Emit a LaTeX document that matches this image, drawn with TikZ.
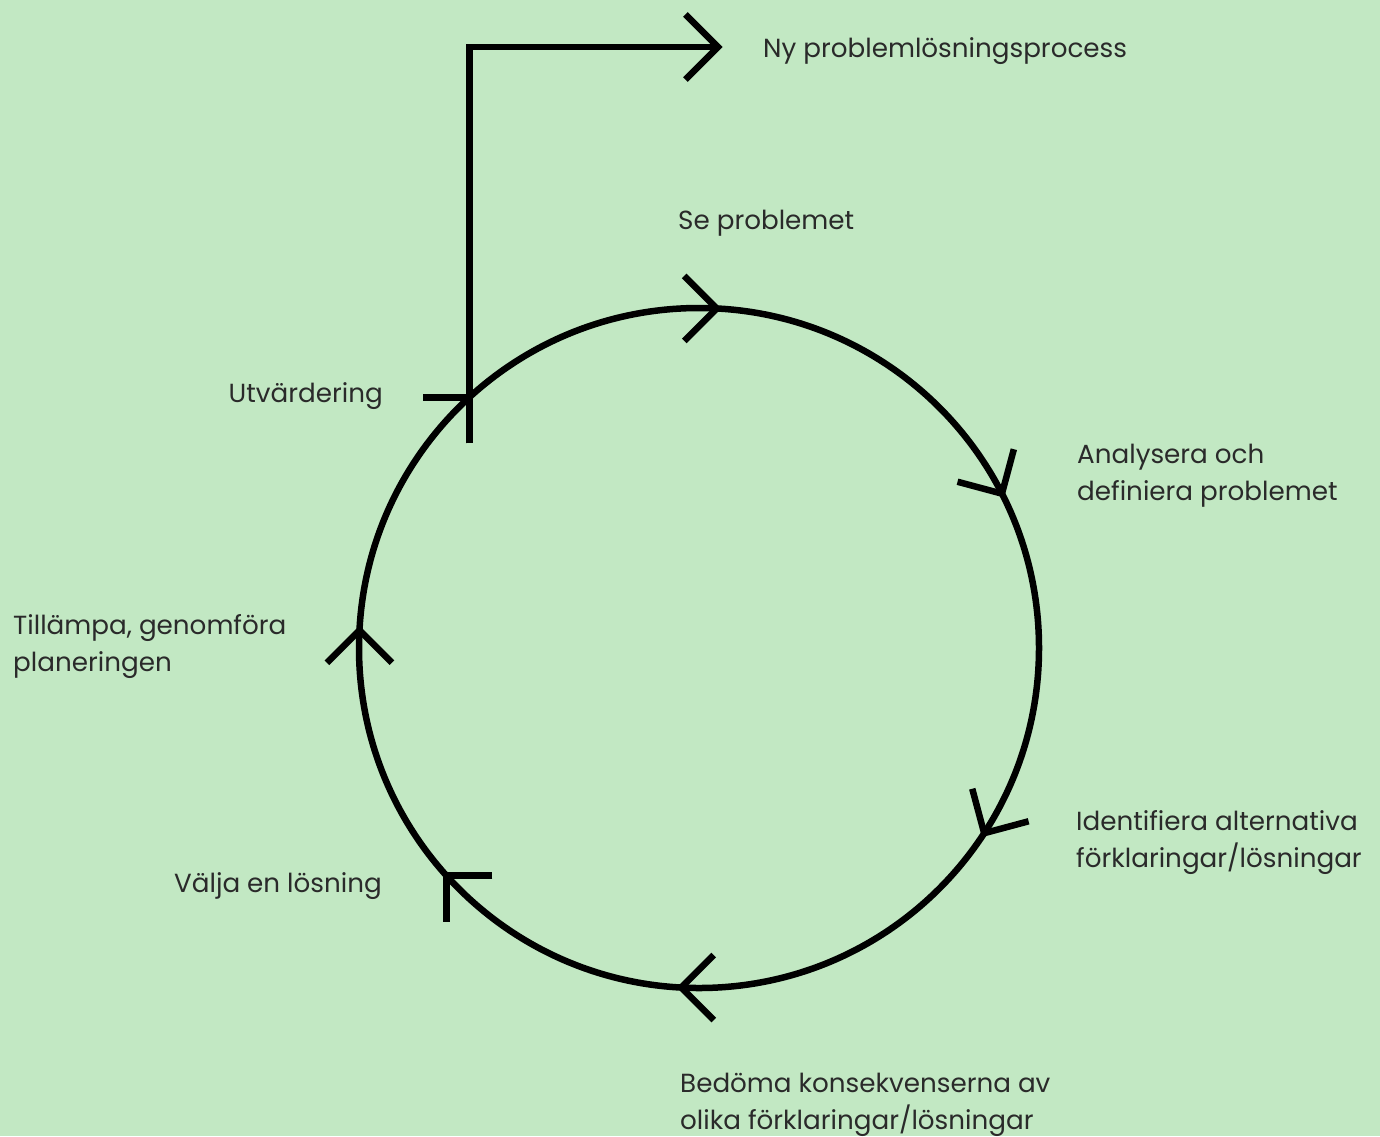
\documentclass[tikz,border=0pt]{standalone}
\usepackage{fontspec}
\setmainfont{Poppins}
\usetikzlibrary{calc}
\definecolor{bg}{HTML}{C2E8C3}
\definecolor{txt}{HTML}{2A2A2A}
\tikzset{
	ring/.style={draw=black, line width=6.5pt, line join=miter},
	lbl/.style={font=\fontsize{26.2}{36.5}\selectfont, text=txt, inner sep=0pt, align=left},
}
\begin{document}
\begin{tikzpicture}[x=1pt, y=-1pt]
% background
\fill[bg] (0,0) rectangle (1380,1136);
\useasboundingbox (0,0) rectangle (1380,1136);
	\coordinate (C) at (699,648);
	% the cycle
	\draw[ring] (C) circle[radius=340];
	\path (C) ++(273:340) coordinate (T1);
	\path (C) ++(333:340) coordinate (T2);
	\path (C) ++(33:340) coordinate (T3);
	\path (C) ++(93:340) coordinate (T4);
	\path (C) ++(138:340) coordinate (T5);
	\path (C) ++(183:340) coordinate (T6);
	\path (C) ++(227.5:340) coordinate (T7);
	% chevrons on the circle
	\draw[ring] (T1) ++(135:46) -- (T1) -- ++(225:46);
	\draw[ring] (T2) ++(195:46) -- (T2) -- ++(285:46);
	\draw[ring] (T3) ++(255:46) -- (T3) -- ++(345:46);
	\draw[ring] (T4) ++(315:46) -- (T4) -- ++(45:46);
	\draw[ring] (T5) ++(0:46) -- (T5) -- ++(90:46);
	\draw[ring] (T6) ++(45:46) -- (T6) -- ++(135:46);
	\draw[ring] (T7) ++(90:46) -- (T7) -- ++(180:46);
	% way out to a new process
	\coordinate (U0) at ($(T7)+(90:46)$);
	\coordinate (N0) at (718,47);
	\draw[ring] (U0) |- (N0);
	\draw[ring] (N0) ++(135:46) -- (N0) -- ++(225:46);
	% labels (base = last line)
	\node[lbl, anchor=base west] (ny) at (763,57) {Ny problemlösningsprocess};
	\node[lbl, anchor=base west] (se) at (678,229) {Se problemet};
	\node[lbl, anchor=base west] (analys) at (1077,500) {Analysera och\\definiera problemet};
	\node[lbl, anchor=base west] (ident) at (1076,867) {Identifiera alternativa\\förklaringar/lösningar};
	\node[lbl, anchor=base west] (bedom) at (680,1129) {Bedöma konsekvenserna av\\olika förklaringar/lösningar};
	\node[lbl, anchor=base east] (valja) at (382,892) {Välja en lösning};
	\node[lbl, anchor=base west] (tillampa) at (13,671) {Tillämpa, genomföra\\planeringen};
	\node[lbl, anchor=base east] (utv) at (383,402) {Utvärdering};
\end{tikzpicture}
\end{document}
